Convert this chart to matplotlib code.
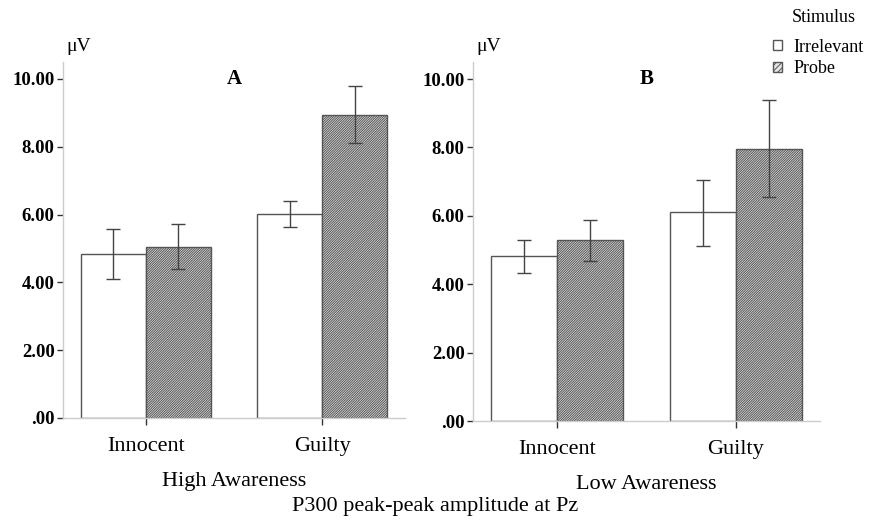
import matplotlib.pyplot as plt
from matplotlib.patches import Patch

plt.rcParams['font.family'] = ['Liberation Serif', 'DejaVu Serif']
plt.rcParams['hatch.linewidth'] = 0.7
plt.rcParams['hatch.color'] = '#4a4a4a'

# data
groups = ['Innocent', 'Guilty']
stimuli = ['Irrelevant', 'Probe']

# panel A - High Awareness
high_irr = [4.84, 6.02]
high_irr_lo = [4.11, 5.62]
high_irr_hi = [5.58, 6.40]
high_probe = [5.05, 8.95]
high_probe_lo = [4.39, 8.11]
high_probe_hi = [5.72, 9.80]

# panel B - Low Awareness
low_irr = [4.82, 6.11]
low_irr_lo = [4.33, 5.11]
low_irr_hi = [5.29, 7.06]
low_probe = [5.29, 7.95]
low_probe_lo = [4.67, 6.54]
low_probe_hi = [5.89, 9.38]

yticks = [0, 2, 4, 6, 8, 10]
ytick_labels = ['.00', '2.00', '4.00', '6.00', '8.00', '10.00']

HATCH = '/' * 14
W, H = 871, 522
fig = plt.figure(figsize=(W / 100, H / 100), dpi=100)


def px_axes(left, right, bottom, top):
    return fig.add_axes([left / W, 1 - bottom / H, (right - left) / W, (bottom - top) / H])


def draw_panel(ax, irr, irr_lo, irr_hi, probe, probe_lo, probe_hi, letter, xlabel):
    w = 0.37
    x = [0, 1]
    xi = [v - w / 2 for v in x]
    xp = [v + w / 2 for v in x]
    ax.bar(xi, irr, width=w, color='white', edgecolor='#555555', linewidth=1.0)
    ax.bar(xp, probe, width=w, color='#e4e4e4', edgecolor='#555555', linewidth=1.0, hatch=HATCH)
    err_kw = dict(fmt='none', ecolor='#444444', elinewidth=1.0, capsize=5, capthick=1.0)
    ax.errorbar(xi, irr, yerr=[[m - l for m, l in zip(irr, irr_lo)], [h - m for m, h in zip(irr, irr_hi)]], **err_kw)
    ax.errorbar(xp, probe, yerr=[[m - l for m, l in zip(probe, probe_lo)], [h - m for m, h in zip(probe, probe_hi)]], **err_kw)

    ax.set_xlim(-0.47, 1.47)
    ax.set_ylim(0, 10.5)
    ax.set_yticks(yticks)
    ax.set_yticklabels(ytick_labels, fontweight='bold', fontsize=13.5)
    ax.set_xticks(x)
    ax.set_xticklabels(groups, fontsize=16)
    ax.tick_params(axis='y', length=4, width=1, color='#333333', pad=2)
    ax.tick_params(axis='x', length=5, width=1, color='#333333', pad=9)
    for s in ['top', 'right']:
        ax.spines[s].set_visible(False)
    for s in ['left', 'bottom']:
        ax.spines[s].set_color('#cccccc')
        ax.spines[s].set_linewidth(1.0)
    ax.text(0.5, 10.0, letter, ha='center', va='center', fontsize=15, fontweight='bold')
    ax.text(0.01, 1.02, 'μV', transform=ax.transAxes, ha='left', va='bottom', fontsize=14)
    ax.set_xlabel(xlabel, fontsize=16, labelpad=11)


axA = px_axes(63, 405, 418, 62)
draw_panel(axA, high_irr, high_irr_lo, high_irr_hi, high_probe, high_probe_lo, high_probe_hi, 'A', 'High Awareness')

axB = px_axes(473, 820, 421, 62)
draw_panel(axB, low_irr, low_irr_lo, low_irr_hi, low_probe, low_probe_lo, low_probe_hi, 'B', 'Low Awareness')

fig.text(0.5, 1 - 507 / H, 'P300 peak-peak amplitude at Pz', ha='center', va='center', fontsize=16)

# legend
fig.text(792 / W, 1 - 17 / H, 'Stimulus', ha='left', va='center', fontsize=13)
handles = [Patch(facecolor='white', edgecolor='#555555', label=stimuli[0]),
           Patch(facecolor='#e4e4e4', edgecolor='#555555', hatch='//////', label=stimuli[1])]
fig.legend(handles=handles, loc='upper left', bbox_to_anchor=(760 / W, 1 - 26 / H),
           frameon=False, fontsize=13, handlelength=0.5, handleheight=0.5,
           handletextpad=0.65, labelspacing=0.25, borderpad=0.2)

fig.savefig('out.png', dpi=100)
